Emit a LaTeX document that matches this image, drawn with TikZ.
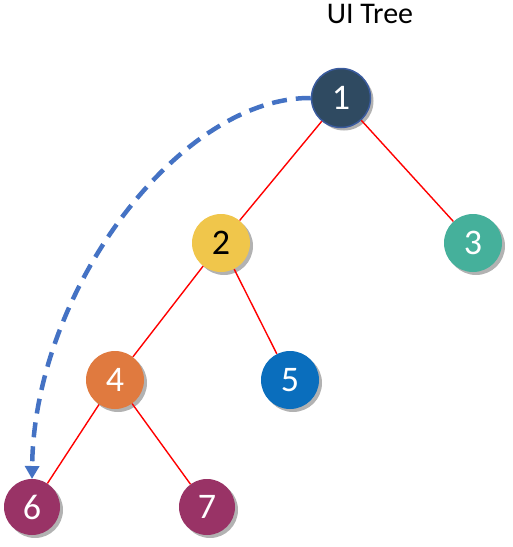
\documentclass[tikz,border=0pt]{standalone}
\usepackage{fontspec}
\setmainfont{Carlito}
\usetikzlibrary{shadows,arrows.meta}
\definecolor{nodeA}{HTML}{2F4A61}
\definecolor{nodeAborder}{HTML}{3A5B9E}
\definecolor{nodeB}{HTML}{F0C64B}
\definecolor{nodeC}{HTML}{45B09B}
\definecolor{nodeD}{HTML}{E07A3F}
\definecolor{nodeE}{HTML}{0A6EBD}
\definecolor{nodeF}{HTML}{993366}
\definecolor{arcblue}{HTML}{4472C4}
\tikzset{
  treenode/.style={circle, minimum size=58pt, inner sep=0pt, font=\fontsize{36}{36}\selectfont, text=white,
    drop shadow={shadow xshift=3pt, shadow yshift=-3pt, opacity=0.3, fill=black}},
  edge/.style={draw=red, line width=1.4pt},
  arc/.style={draw=arcblue, line width=4.5pt, dash pattern=on 15pt off 9pt,
    -{Triangle[length=13pt,width=14pt]}}
}
\begin{document}
\begin{tikzpicture}[x=1pt,y=-1pt]
\useasboundingbox[fill=white] (0,0) rectangle (513,547);
\node[font=\fontsize{30}{30}\selectfont] (title) at (370,14) {UI Tree};
\node[treenode, fill=nodeA, draw=nodeAborder, line width=1.5pt, minimum size=59pt] (n1) at (341,98) {1};
\node[treenode, fill=nodeB, text=black] (n2) at (221,243) {2};
\node[treenode, fill=nodeC] (n3) at (473,243) {3};
\node[treenode, fill=nodeD] (n4) at (115,380) {4};
\node[treenode, fill=nodeE] (n5) at (290,380) {5};
\node[treenode, fill=nodeF, minimum size=56pt] (n6) at (32,507) {6};
\node[treenode, fill=nodeF, minimum size=56pt] (n7) at (207,507) {7};
\draw[edge] (n1) -- (n2);
\draw[edge] (n1) -- (n3);
\draw[edge] (n2) -- (n4);
\draw[edge] (n2) -- (n5);
\draw[edge] (n4) -- (n6);
\draw[edge] (n4) -- (n7);
\coordinate (arcend) at (32,479);
\draw[arc] (n1.west) .. controls (180,97) and (34,290) .. (arcend);
\end{tikzpicture}
\end{document}
